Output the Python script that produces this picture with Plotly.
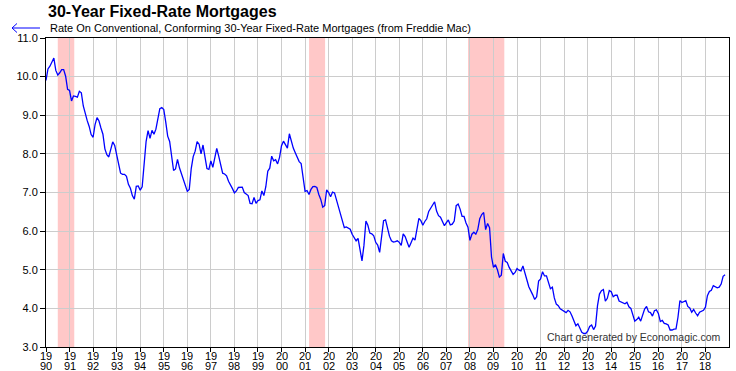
import plotly.graph_objects as go

start_year = 1990
rates_1990 = [9.90, 10.20, 10.27, 10.37, 10.48, 10.16, 10.04, 10.10, 10.18, 10.18, 10.01, 9.67]
rates_1991 = [9.64, 9.37, 9.50, 9.49, 9.47, 9.62, 9.58, 9.24, 9.01, 8.86, 8.71, 8.50]
rates_1992 = [8.43, 8.76, 8.94, 8.85, 8.67, 8.51, 8.13, 7.98, 7.92, 8.09, 8.31, 8.22]
rates_1993 = [7.99, 7.68, 7.50, 7.47, 7.47, 7.42, 7.21, 7.11, 6.92, 6.83, 7.16, 7.17]
rates_1994 = [7.06, 7.15, 7.68, 8.32, 8.60, 8.40, 8.61, 8.51, 8.64, 8.93, 9.17, 9.20]
rates_1995 = [9.15, 8.83, 8.46, 8.32, 7.96, 7.57, 7.61, 7.86, 7.64, 7.48, 7.38, 7.20]
rates_1996 = [7.03, 7.08, 7.62, 7.93, 8.07, 8.32, 8.25, 8.00, 8.23, 7.92, 7.62, 7.60]
rates_1997 = [7.82, 7.65, 7.90, 8.14, 7.94, 7.69, 7.50, 7.48, 7.43, 7.29, 7.21, 7.10]
rates_1998 = [6.99, 7.04, 7.13, 7.14, 7.14, 7.00, 6.95, 6.92, 6.72, 6.71, 6.87, 6.72]
rates_1999 = [6.79, 6.81, 7.04, 6.92, 7.15, 7.55, 7.63, 7.94, 7.82, 7.85, 7.74, 7.91]
rates_2000 = [8.21, 8.33, 8.24, 8.15, 8.52, 8.29, 8.15, 8.03, 7.91, 7.80, 7.75, 7.38]
rates_2001 = [7.03, 7.05, 6.95, 7.08, 7.15, 7.16, 7.13, 6.95, 6.82, 6.62, 6.66, 7.07]
rates_2002 = [7.00, 6.89, 7.01, 6.99, 6.81, 6.65, 6.49, 6.29, 6.09, 6.11, 6.07, 6.05]
rates_2003 = [5.92, 5.84, 5.75, 5.81, 5.48, 5.23, 5.63, 6.26, 6.15, 5.95, 5.93, 5.88]
rates_2004 = [5.71, 5.64, 5.45, 5.83, 6.27, 6.29, 6.06, 5.87, 5.75, 5.72, 5.73, 5.75]
rates_2005 = [5.71, 5.63, 5.93, 5.86, 5.72, 5.58, 5.70, 5.82, 5.77, 6.07, 6.33, 6.27]
rates_2006 = [6.15, 6.25, 6.32, 6.51, 6.60, 6.68, 6.76, 6.52, 6.40, 6.36, 6.24, 6.14]
rates_2007 = [6.22, 6.29, 6.16, 6.18, 6.26, 6.66, 6.70, 6.57, 6.38, 6.38, 6.21, 6.10]
rates_2008 = [5.76, 5.92, 5.97, 5.92, 6.04, 6.32, 6.43, 6.48, 6.04, 6.20, 6.09, 5.33]
rates_2009 = [5.06, 5.13, 5.00, 4.81, 4.86, 5.42, 5.22, 5.19, 5.06, 4.95, 4.88, 4.93]
rates_2010 = [5.03, 4.99, 4.97, 5.10, 4.89, 4.74, 4.56, 4.43, 4.35, 4.23, 4.30, 4.71]
rates_2011 = [4.76, 4.95, 4.84, 4.84, 4.64, 4.51, 4.55, 4.27, 4.11, 4.07, 3.99, 3.96]
rates_2012 = [3.92, 3.89, 3.95, 3.91, 3.80, 3.68, 3.55, 3.60, 3.50, 3.38, 3.35, 3.35]
rates_2013 = [3.41, 3.53, 3.57, 3.45, 3.54, 4.07, 4.37, 4.46, 4.49, 4.19, 4.26, 4.46]
rates_2014 = [4.43, 4.30, 4.34, 4.34, 4.19, 4.16, 4.13, 4.12, 4.16, 4.04, 4.00, 3.86]
rates_2015 = [3.67, 3.71, 3.77, 3.67, 3.84, 3.98, 4.05, 3.91, 3.89, 3.80, 3.94, 3.96]
rates_2016 = [3.87, 3.66, 3.69, 3.61, 3.60, 3.57, 3.44, 3.44, 3.46, 3.47, 3.77, 4.20]
rates_2017 = [4.15, 4.17, 4.20, 4.05, 4.01, 3.90, 3.97, 3.88, 3.81, 3.90, 3.92, 3.95]
rates_2018 = [4.03, 4.33, 4.44, 4.47, 4.59, 4.57, 4.53, 4.55, 4.63, 4.83, 4.87]

yearly = [rates_1990, rates_1991, rates_1992, rates_1993, rates_1994, rates_1995,
          rates_1996, rates_1997, rates_1998, rates_1999, rates_2000, rates_2001,
          rates_2002, rates_2003, rates_2004, rates_2005, rates_2006, rates_2007,
          rates_2008, rates_2009, rates_2010, rates_2011, rates_2012, rates_2013,
          rates_2014, rates_2015, rates_2016, rates_2017, rates_2018]

# recessions (decimal years)
recession_starts = [1990.5, 2001.17, 2007.92]
recession_ends = [1991.2, 2001.85, 2009.46]

tick_years = list(range(1990, 2019))
y_ticks = [3, 4, 5, 6, 7, 8, 9, 10, 11]

title_text = "30-Year Fixed-Rate Mortgages"
subtitle_text = "Rate On Conventional, Conforming 30-Year Fixed-Rate Mortgages (from Freddie Mac)"
credit_text = "Chart generated by Economagic.com"

x_vals, y_vals = [], []
for i, vals in enumerate(yearly):
    for m, v in enumerate(vals):
        x_vals.append(start_year + i + m / 12.0)
        y_vals.append(v)

W, H = 736, 371
L, R, T, B = 46, 7, 38, 24
PW, PH = W - L - R, H - T - B

def px(xp):
    return (xp - L) / PW

def py(yp):
    return (H - B - yp) / PH

FONT = "Liberation Sans, Arial, sans-serif"

fig = go.Figure()
fig.add_trace(go.Scatter(x=x_vals, y=y_vals, mode="lines",
                         line=dict(color="#0000FF", width=1.3), hoverinfo="skip"))

shapes = []
for s, e in zip(recession_starts, recession_ends):
    shapes.append(dict(type="rect", xref="x", yref="paper", x0=s, x1=e, y0=0, y1=1,
                       fillcolor="#FFC8C8", line=dict(width=0), layer="below"))
# arrow next to subtitle
path = "M %f,%f L %f,%f M %f,%f L %f,%f L %f,%f" % (
    px(40), py(28), px(12), py(28),
    px(17), py(23.5), px(12), py(28), px(17), py(32.5))
shapes.append(dict(type="path", xref="paper", yref="paper", path=path,
                   line=dict(color="#0000FF", width=1)))

annotations = [
    dict(text="<b>" + title_text + "</b>", xref="paper", yref="paper", x=0, y=py(11),
         xanchor="left", yanchor="middle", showarrow=False,
         font=dict(family=FONT, size=16, color="black")),
    dict(text=subtitle_text, xref="paper", yref="paper", x=px(48), y=py(28),
         xanchor="left", yanchor="middle", showarrow=False,
         font=dict(family=FONT, size=11, color="black")),
    dict(text=credit_text, xref="paper", yref="paper", x=px(723), y=py(337),
         xanchor="right", yanchor="middle", showarrow=False,
         font=dict(family=FONT, size=10.5, color="#333333")),
]
for yr in tick_years:
    annotations.append(dict(text=str(yr)[:2], xref="x", yref="paper", x=yr, y=py(355.5),
                            xanchor="center", yanchor="middle", showarrow=False,
                            height=9, valign="middle", borderpad=0,
                            font=dict(family=FONT, size=11, color="black")))
    annotations.append(dict(text=str(yr)[2:], xref="x", yref="paper", x=yr, y=py(365.5),
                            xanchor="center", yanchor="middle", showarrow=False,
                            height=9, valign="middle", borderpad=0,
                            font=dict(family=FONT, size=11, color="black")))

fig.update_layout(
    width=W, height=H,
    margin=dict(l=L, r=R, t=T, b=B, pad=0, autoexpand=False),
    paper_bgcolor="white", plot_bgcolor="white",
    showlegend=False,
    shapes=shapes, annotations=annotations,
    font=dict(family=FONT, size=11, color="black"),
)
fig.update_xaxes(range=[1990, 2019], tickmode="array", tickvals=tick_years,
                 showticklabels=False, automargin=False,
                 showgrid=True, gridcolor="#CCCCCC", gridwidth=1,
                 ticks="outside", ticklen=4, tickcolor="black",
                 showline=True, linecolor="black", linewidth=1, mirror=True,
                 zeroline=False)
fig.update_yaxes(range=[3, 11], tickmode="array", tickvals=y_ticks,
                 ticktext=["%.1f" % v for v in y_ticks], automargin=False,
                 showgrid=True, gridcolor="#CCCCCC", gridwidth=1,
                 ticks="outside", ticklen=5, tickcolor="black",
                 showline=True, linecolor="black", linewidth=1, mirror=True,
                 zeroline=False, tickfont=dict(family=FONT, size=11, color="black"))

fig.write_html("out.html", config={"displayModeBar": False, "staticPlot": True},
               post_script="document.body.style.margin='0';document.body.style.padding='0';document.body.style.overflow='hidden';")
